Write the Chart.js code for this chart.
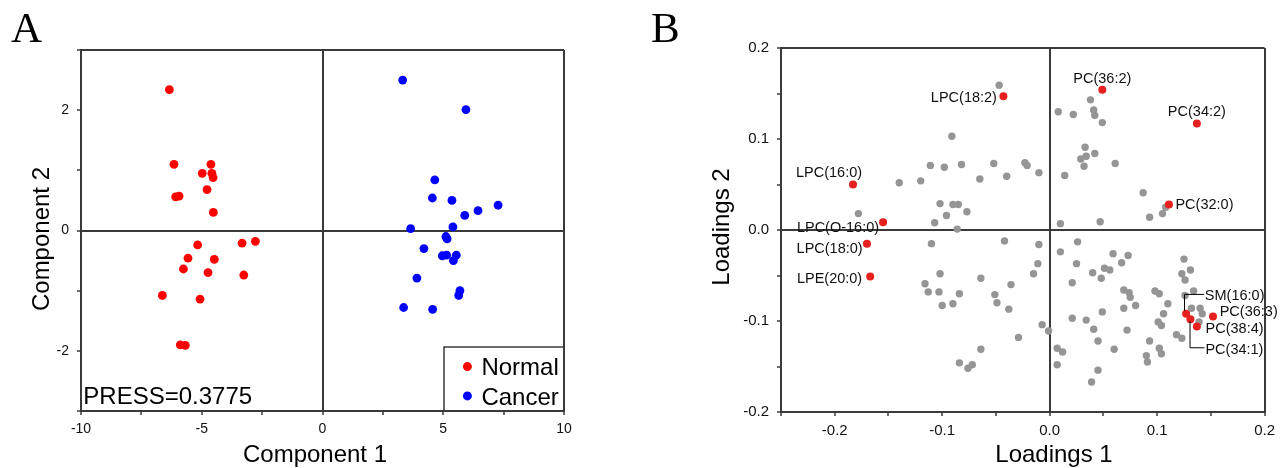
<!DOCTYPE html>
<html>
<head>
<meta charset="utf-8">
<script src="https://cdn.jsdelivr.net/npm/chart.js@4.4.1/dist/chart.umd.min.js"></script>
<style>
  html, body { margin: 0; padding: 0; background: #fff; }
  body { width: 1281px; height: 468px; position: relative; overflow: hidden; }
  .panel { position: absolute; top: 0; height: 468px; }
  #wrapA { left: 0; width: 640px; }
  #wrapB { left: 640px; width: 641px; }
  .letter { position: absolute; top: 6px; font: 43px "Liberation Serif", "Times New Roman", serif; color: #000; line-height: 1; }
</style>
</head>
<body>
<div class="panel" id="wrapA"><canvas id="chartA"></canvas></div>
<div class="panel" id="wrapB"><canvas id="chartB"></canvas></div>
<div class="letter" style="left:11px">A</div>
<div class="letter" style="left:651px">B</div>

<script>
// ---- Panel A: scores ----
const normalX = [-6.34, -6.15, -4.62, -4.98, -4.58, -4.53, -6.08, -5.94, -4.78, -4.52, -5.17,
                 -5.57, -5.76, -4.48, -4.74, -3.33, -2.78, -3.26, -6.63, -5.07, -5.89, -5.68];
const normalY = [2.34, 1.10, 1.10, 0.95, 0.95, 0.88, 0.56, 0.57, 0.68, 0.30, -0.24,
                 -0.46, -0.64, -0.48, -0.70, -0.21, -0.18, -0.74, -1.08, -1.14, -1.90, -1.91];
const cancerX = [3.32, 5.94, 4.65, 4.55, 5.36, 7.27, 6.44, 5.89, 3.65, 5.40, 5.11,
                 5.16, 4.20, 4.96, 5.14, 5.54, 5.42, 3.91, 5.69, 5.64, 3.36, 4.56];
const cancerY = [2.50, 2.01, 0.84, 0.54, 0.50, 0.42, 0.33, 0.25, 0.03, 0.06, -0.10,
                 -0.14, -0.30, -0.42, -0.41, -0.41, -0.50, -0.79, -1.00, -1.08, -1.28, -1.31];

const aXTicks = [-10, -7.5, -5, -2.5, 0, 2.5, 5, 7.5, 10];
const aXTickLabels = ['-10', '', '-5', '', '0', '', '5', '', '10'];
const aYTicks = [-3, -2, -1, 0, 1, 2, 3];
const aYTickLabels = ['', '-2', '', '0', '', '2', ''];

// ---- Panel B: loadings ----
const grayX = [
  -0.047, -0.091, -0.111, -0.098, -0.082, -0.052, -0.023, -0.021, -0.010, -0.040, -0.065,
  -0.120, -0.140, -0.178, -0.102, -0.090, -0.085, -0.077, -0.096, -0.107, -0.086,
  0.038, 0.008, 0.022, 0.041, 0.042, 0.049, 0.033, 0.042, 0.034, 0.029, 0.032, 0.061,
  0.014, 0.087, 0.108, 0.105, 0.093, 0.010, 0.047,
  -0.110, -0.042, -0.010, -0.011, -0.015, -0.102, -0.116, -0.113, -0.103, -0.084, -0.100,
  -0.090, -0.064, -0.051, -0.036, -0.049, -0.038, -0.007, -0.001, -0.029, -0.064, -0.084,
  -0.076, -0.072,
  0.026, 0.010, 0.059, 0.073, 0.025, 0.067, 0.051, 0.056, 0.040, 0.048, 0.021, 0.069,
  0.074, 0.075, 0.080, 0.069, 0.049, 0.021, 0.034, 0.041, 0.072, 0.045, 0.060, 0.007,
  0.012, 0.007, 0.045, 0.039, 0.098, 0.102, 0.110, 0.106, 0.101, 0.104, 0.093, 0.118,
  0.123, 0.102, 0.104, 0.090, 0.091, 0.125, 0.131, 0.123, 0.126, 0.134, 0.126, 0.132,
  0.140, 0.142, 0.139
];
const grayY = [
  0.159, 0.103, 0.071, 0.069, 0.072, 0.073, 0.074, 0.071, 0.063, 0.059, 0.056,
  0.054, 0.052, 0.018, 0.029, 0.028, 0.028, 0.020, 0.016, 0.008, 0.001,
  0.143, 0.130, 0.127, 0.132, 0.126, 0.118, 0.091, 0.084, 0.081, 0.078, 0.070, 0.073,
  0.060, 0.041, 0.025, 0.018, 0.014, 0.007, 0.009,
  -0.015, -0.012, -0.016, -0.037, -0.048, -0.048, -0.059, -0.068, -0.068, -0.070, -0.083,
  -0.081, -0.053, -0.071, -0.060, -0.080, -0.087, -0.104, -0.111, -0.118, -0.131, -0.146,
  -0.152, -0.148,
  -0.013, -0.024, -0.026, -0.028, -0.037, -0.036, -0.042, -0.044, -0.047, -0.053, -0.058, -0.066,
  -0.069, -0.074, -0.083, -0.086, -0.090, -0.097, -0.099, -0.109, -0.110, -0.122, -0.131, -0.130,
  -0.134, -0.148, -0.154, -0.167, -0.067, -0.070, -0.081, -0.092, -0.101, -0.105, -0.122, -0.115,
  -0.119, -0.130, -0.136, -0.138, -0.145, -0.032, -0.044, -0.048, -0.055, -0.067, -0.072, -0.086,
  -0.086, -0.092, -0.101
];
const lipidNames = ['LPC(18:2)', 'PC(36:2)', 'PC(34:2)', 'LPC(16:0)', 'PC(32:0)', 'LPC(O-16:0)',
                    'LPC(18:0)', 'LPE(20:0)', 'SM(16:0)', 'PC(36:3)', 'PC(38:4)', 'PC(34:1)'];
const lipidX = [-0.043, 0.049, 0.137, -0.183, 0.111, -0.155, -0.170, -0.167, 0.127, 0.152, 0.137, 0.131];
const lipidY = [0.147, 0.154, 0.117, 0.050, 0.028, 0.0085, -0.015, -0.051, -0.092, -0.095, -0.106, -0.098];

const bXTicks = [-0.25, -0.2, -0.15, -0.1, -0.05, 0, 0.05, 0.1, 0.15, 0.2];
const bXTickLabels = ['', '-0.2', '', '-0.1', '', '0.0', '', '0.1', '', '0.2'];
const bYTicks = [-0.2, -0.15, -0.1, -0.05, 0, 0.05, 0.1, 0.15, 0.2];
const bYTickLabels = ['-0.2', '', '-0.1', '', '0.0', '', '0.1', '', '0.2'];

// label placement: [align, dx, dy] in pixels from the point
const labelPlace = [
  ['right', -6.5, 2], ['center', 0, -11], ['center', 0, -11.5], ['left', -57, -11.6],
  ['left', 6.5, 0.7], ['right', -4, 5.4], ['right', -4.3, 5.3], ['right', -8, 3],
  ['left', 18.7, -18], ['left', 6.7, -4.7], ['left', 8.7, 2.6], ['left', 15, 30.6]
];
// leader lines for the crowded cluster, pixel offsets from the point
const leaders = {
  8: [[-1.6, -3], [-1.6, -19.3], [18, -19.3]],
  11: [[-0.4, 2.3], [-0.4, 28.6], [14, 28.6]]
};

const LINE = '#3a3a3a';
const FONT = '"Liberation Sans", Arial, sans-serif';
Chart.defaults.font.family = FONT;

function toPoints(xs, ys) {
  return xs.map((x, i) => ({ x, y: ys[i] }));
}

function axisOpts(min, max, ticks, labels, size, isX, pad, fontSize) {
  return {
    type: 'linear', min, max,
    afterBuildTicks: s => { s.ticks = ticks.map(v => ({ value: v })); },
    afterFit: s => { if (isX) s.height = size; else s.width = size; },
    ticks: { callback: (v, i) => labels[i], font: { size: fontSize }, color: '#111',
             padding: pad, autoSkip: false, maxRotation: 0 },
    grid: {
      color: c => (c.tick && (c.tick.value === 0 || c.tick.value === max)) ? LINE : 'rgba(0,0,0,0)',
      lineWidth: 2, tickColor: LINE, tickLength: 4, tickWidth: 1.5
    },
    border: { display: true, color: LINE, width: 2 }
  };
}

function drawAxisTitles(chart, t) {
  const { ctx, chartArea: ca } = chart;
  ctx.save();
  ctx.fillStyle = '#000';
  ctx.font = '24px ' + FONT;
  ctx.textBaseline = 'alphabetic';
  ctx.textAlign = 'center';
  ctx.fillText(t.x, t.xCenter, ca.bottom + t.xBase);
  ctx.translate(t.yBase, t.yCenter);
  ctx.rotate(-Math.PI / 2);
  ctx.fillText(t.y, 0, 0);
  ctx.restore();
}

const panelAExtras = {
  id: 'panelAExtras',
  afterDraw(chart) {
    const { ctx, chartArea: ca } = chart;
    drawAxisTitles(chart, { x: 'Component 1', xCenter: 315, xBase: 51,
                            y: 'Component 2', yBase: 49, yCenter: 239 });
    ctx.save();
    // legend box, lower right corner of the plot
    const bx = ca.right - 120, by = ca.bottom - 64;
    ctx.strokeStyle = LINE;
    ctx.lineWidth = 1.5;
    ctx.beginPath();
    ctx.moveTo(bx, ca.bottom);
    ctx.lineTo(bx, by);
    ctx.lineTo(ca.right, by);
    ctx.stroke();
    ctx.font = '24px ' + FONT;
    ctx.textAlign = 'left';
    ctx.textBaseline = 'alphabetic';
    chart.data.datasets.forEach((ds, i) => {
      const base = by + 28.4 + i * 29.3;
      ctx.fillStyle = ds.backgroundColor;
      ctx.beginPath();
      ctx.arc(bx + 23.4, base - 8.8, 4.5, 0, Math.PI * 2);
      ctx.fill();
      ctx.fillStyle = '#000';
      ctx.fillText(ds.label, bx + 37.4, base);
    });
    ctx.fillText('PRESS=0.3775', ca.left + 2.3, ca.bottom - 7);
    ctx.restore();
  }
};

const panelBExtras = {
  id: 'panelBExtras',
  afterDraw(chart) {
    const { ctx } = chart;
    drawAxisTitles(chart, { x: 'Loadings 1', xCenter: 414, xBase: 50,
                            y: 'Loadings 2', yBase: 89, yCenter: 227 });
    const pts = chart.getDatasetMeta(0).data;
    ctx.save();
    ctx.strokeStyle = '#000';
    ctx.lineWidth = 1;
    Object.keys(leaders).forEach(k => {
      const p = pts[k];
      ctx.beginPath();
      leaders[k].forEach(([dx, dy], j) => {
        if (j === 0) ctx.moveTo(p.x + dx, p.y + dy); else ctx.lineTo(p.x + dx, p.y + dy);
      });
      ctx.stroke();
    });
    ctx.fillStyle = '#111';
    ctx.font = '14.5px ' + FONT;
    ctx.textBaseline = 'middle';
    lipidNames.forEach((name, i) => {
      const [align, dx, dy] = labelPlace[i];
      ctx.textAlign = align;
      ctx.fillText(name, pts[i].x + dx, pts[i].y + dy);
    });
    ctx.restore();
  }
};

const common = {
  responsive: true, maintainAspectRatio: false, animation: false, devicePixelRatio: 1,
  events: []
};

new Chart(document.getElementById('chartA'), {
  type: 'scatter',
  data: {
    datasets: [
      { label: 'Normal', data: toPoints(normalX, normalY), backgroundColor: '#ff0000',
        borderColor: '#ff0000', borderWidth: 0, pointRadius: 4.4 },
      { label: 'Cancer', data: toPoints(cancerX, cancerY), backgroundColor: '#0000ff',
        borderColor: '#0000ff', borderWidth: 0, pointRadius: 4.4 }
    ]
  },
  options: {
    ...common,
    layout: { padding: { left: 0, top: 50, right: 76, bottom: 0 } },
    plugins: { legend: { display: false }, tooltip: { enabled: false } },
    scales: {
      x: axisOpts(-10, 10, aXTicks, aXTickLabels, 57, true, 6, 14),
      y: axisOpts(-3, 3, aYTicks, aYTickLabels, 81, false, 8, 14)
    }
  },
  plugins: [panelAExtras]
});

new Chart(document.getElementById('chartB'), {
  type: 'scatter',
  data: {
    datasets: [
      { label: 'Marked lipids', data: toPoints(lipidX, lipidY), backgroundColor: '#e6201f',
        borderColor: '#e6201f', borderWidth: 0, pointRadius: 4 },
      { label: 'Other lipids', data: toPoints(grayX, grayY), backgroundColor: '#959595',
        borderColor: '#959595', borderWidth: 0, pointRadius: 3.7 }
    ]
  },
  options: {
    ...common,
    layout: { padding: { left: 0, top: 48, right: 12, bottom: 0 } },
    plugins: { legend: { display: false }, tooltip: { enabled: false } },
    scales: {
      x: axisOpts(-0.25, 0.2, bXTicks, bXTickLabels, 56, true, 6, 15),
      y: axisOpts(-0.2, 0.2, bYTicks, bYTickLabels, 141, false, 8, 15)
    }
  },
  plugins: [panelBExtras]
});
</script>
</body>
</html>
